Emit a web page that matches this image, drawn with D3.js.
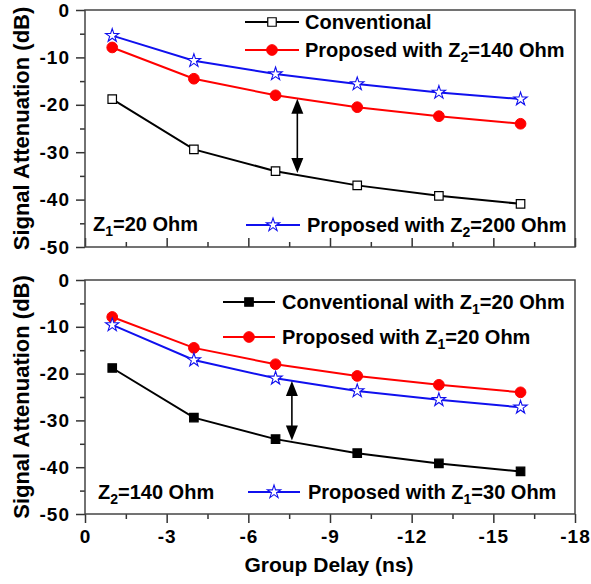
<!DOCTYPE html>
<html>
<head>
<meta charset="utf-8">
<script src="https://cdn.jsdelivr.net/npm/d3@7"></script>
<style>
  body { margin: 0; background: #fff; }
  svg text { font-family: "Liberation Sans", Arial, sans-serif; font-weight: bold; fill: #000; }
</style>
</head>
<body>
<div id="chart"></div>
<script>
// group delay (ns) of each measured point
var delays = [-1, -4, -7, -10, -13, -16];

// top panel (Z1 = 20 Ohm)
var conventional = [-18.8, -29.4, -34.0, -37.0, -39.2, -40.9];
var proposedZ2_140 = [-7.9, -14.5, -18.0, -20.5, -22.4, -24.0];
var proposedZ2_200 = [-5.4, -10.7, -13.5, -15.6, -17.4, -18.8];

// bottom panel (Z2 = 140 Ohm)
var conventionalZ1_20 = [-18.8, -29.4, -34.0, -37.0, -39.2, -40.9];
var proposedZ1_20 = [-7.9, -14.5, -18.0, -20.5, -22.4, -24.0];
var proposedZ1_30 = [-9.6, -17.1, -21.0, -23.7, -25.6, -27.2];

var xTicks = [0, -3, -6, -9, -12, -15, -18];
var xMinor = [-1.5, -4.5, -7.5, -10.5, -13.5, -16.5];
var yTicks = [0, -10, -20, -30, -40, -50];
var yMinor = [-5, -15, -25, -35, -45];

// arrows: [x, from, to]
var arrowTop = [-7.8, -18.7, -34.4];
var arrowBottom = [-7.6, -21.6, -34.3];

var svgWidth = 591;
var svgHeight = 584;

var svg = d3.select("#chart")
    .append("svg")
    .attr("width", svgWidth)
    .attr("height", svgHeight);

var xScale = d3.scaleLinear().domain([0, -18]).range([85, 575]);

var line = function(yScale) {
    return d3.line()
        .x(d => xScale(d[0]))
        .y(d => yScale(d[1]));
};

function drawPanel(top, bottom, series, arrow, showXLabels, legendRows, note) {
    var yScale = d3.scaleLinear().domain([0, -50]).range([top, bottom]);
    var g = svg.append("g");

    // y axis major + minor
    g.append("g")
        .attr("transform", "translate(85,0)")
        .call(d3.axisLeft(yScale).tickValues(yTicks).tickSize(9).tickPadding(6).tickFormat(d => String(d)))
        .call(a => a.select(".domain").remove());
    g.append("g")
        .attr("transform", "translate(85,0)")
        .call(d3.axisLeft(yScale).tickValues(yMinor).tickSize(5).tickFormat(""))
        .call(a => a.select(".domain").remove());

    // x axis
    var inside = showXLabels ? 1 : -1;
    g.append("g")
        .attr("transform", `translate(0,${bottom})`)
        .call(d3.axisBottom(xScale).tickValues(xTicks).tickSize(9 * inside).tickPadding(7)
            .tickFormat(showXLabels ? (d => String(d)) : ""))
        .call(a => a.select(".domain").remove());
    g.append("g")
        .attr("transform", `translate(0,${bottom})`)
        .call(d3.axisBottom(xScale).tickValues(xMinor).tickSize(5 * inside).tickFormat(""))
        .call(a => a.select(".domain").remove());

    g.selectAll(".tick line").attr("stroke", "#333").attr("stroke-width", 1.5);
    g.selectAll(".tick text")
        .style("font-size", "19px")
        .style("letter-spacing", "1px");

    // frame
    g.append("rect")
        .attr("x", 85).attr("y", top)
        .attr("width", 575 - 85).attr("height", bottom - top)
        .attr("fill", "none")
        .attr("stroke", "#444")
        .attr("stroke-width", 1.5);

    // y title
    g.append("text")
        .attr("transform", `translate(29,${(top + bottom) / 2}) rotate(-90)`)
        .attr("text-anchor", "middle")
        .style("font-size", "22px")
        .text("Signal Attenuation (dB)");

    series.forEach(function(s) {
        var pts = delays.map((d, i) => [d, s.values[i]]);
        g.append("path")
            .datum(pts)
            .attr("d", line(yScale))
            .attr("fill", "none")
            .attr("stroke", s.color)
            .attr("stroke-width", 2);
        g.selectAll(null)
            .data(pts)
            .enter()
            .append("path")
            .attr("transform", d => `translate(${xScale(d[0])},${yScale(d[1])})`)
            .attr("d", d3.symbol(s.symbol, s.size))
            .attr("fill", s.fill)
            .attr("stroke", s.color)
            .attr("stroke-width", s.sw);
    });

    // double arrow
    var ax = xScale(arrow[0]);
    var y1 = yScale(arrow[1]);
    var y2 = yScale(arrow[2]);
    g.append("line")
        .attr("x1", ax).attr("x2", ax)
        .attr("y1", y1 + 12).attr("y2", y2 - 12)
        .attr("stroke", "#000").attr("stroke-width", 1.6);
    g.append("path")
        .attr("d", `M${ax},${y1} L${ax - 6},${y1 + 15} L${ax + 6},${y1 + 15} Z`)
        .attr("fill", "#000");
    g.append("path")
        .attr("d", `M${ax},${y2} L${ax - 6},${y2 - 15} L${ax + 6},${y2 - 15} Z`)
        .attr("fill", "#000");

    // legend
    legendRows.forEach(function(r) {
        var s = r.s;
        g.append("line")
            .attr("x1", r.x1).attr("x2", r.x2)
            .attr("y1", r.y).attr("y2", r.y)
            .attr("stroke", s.color).attr("stroke-width", 2);
        g.append("path")
            .attr("transform", `translate(${(r.x1 + r.x2) / 2},${r.y})`)
            .attr("d", d3.symbol(s.symbol, s.size))
            .attr("fill", s.fill)
            .attr("stroke", s.color)
            .attr("stroke-width", s.sw);
        var t = g.append("text")
            .attr("x", r.tx).attr("y", r.y + 7)
            .style("font-size", "20px");
        r.parts.forEach(function(p) {
            var ts = t.append("tspan").text(p[0]);
            if (p[1] === "sub") {
                ts.attr("dy", 5).style("font-size", "14px");
            } else if (p[1] === "back") {
                ts.attr("dy", -5);
            }
        });
    });

    var n = g.append("text")
        .attr("x", note.x).attr("y", note.y)
        .style("font-size", "20px");
    n.append("tspan").text("Z");
    n.append("tspan").attr("dy", 5).style("font-size", "14px").text(note.sub);
    n.append("tspan").attr("dy", -5).text(note.rest);

    if (showXLabels) {
        g.append("text")
            .attr("x", 329).attr("y", 572)
            .attr("text-anchor", "middle")
            .style("font-size", "21px")
            .text("Group Delay (ns)");
    }
}

var blackOpen = { color: "#000", fill: "#fff", symbol: d3.symbolSquare, size: 72, sw: 1.2 };
var blackFill = { color: "#000", fill: "#000", symbol: d3.symbolSquare, size: 72, sw: 1.2 };
var redDot = { color: "#ff0000", fill: "#ff0000", symbol: d3.symbolCircle, size: 90, sw: 1 };
var blueStar = { color: "#1010ee", fill: "#fff", symbol: d3.symbolStar, size: 55, sw: 1.1 };

drawPanel(10, 247,
    [
        Object.assign({ values: conventional }, blackOpen),
        Object.assign({ values: proposedZ2_140 }, redDot),
        Object.assign({ values: proposedZ2_200 }, blueStar)
    ],
    arrowTop, false,
    [
        { s: blackOpen, x1: 245, x2: 299, tx: 305, y: 22, parts: [["Conventional"]] },
        { s: redDot, x1: 245, x2: 299, tx: 305, y: 50, parts: [["Proposed with Z"], ["2", "sub"], ["=140 Ohm", "back"]] },
        { s: blueStar, x1: 246, x2: 300, tx: 307, y: 225, parts: [["Proposed with Z"], ["2", "sub"], ["=200 Ohm", "back"]] }
    ],
    { x: 93, y: 231, sub: "1", rest: "=20 Ohm" });

drawPanel(280, 514,
    [
        Object.assign({ values: conventionalZ1_20 }, blackFill),
        Object.assign({ values: proposedZ1_20 }, redDot),
        Object.assign({ values: proposedZ1_30 }, blueStar)
    ],
    arrowBottom, true,
    [
        { s: blackFill, x1: 223, x2: 275, tx: 282, y: 302, parts: [["Conventional with Z"], ["1", "sub"], ["=20 Ohm", "back"]] },
        { s: redDot, x1: 223, x2: 275, tx: 282, y: 337, parts: [["Proposed with Z"], ["1", "sub"], ["=20 Ohm", "back"]] },
        { s: blueStar, x1: 248, x2: 300, tx: 308, y: 492, parts: [["Proposed with Z"], ["1", "sub"], ["=30 Ohm", "back"]] }
    ],
    { x: 98, y: 499, sub: "2", rest: "=140 Ohm" });
</script>
</body>
</html>
